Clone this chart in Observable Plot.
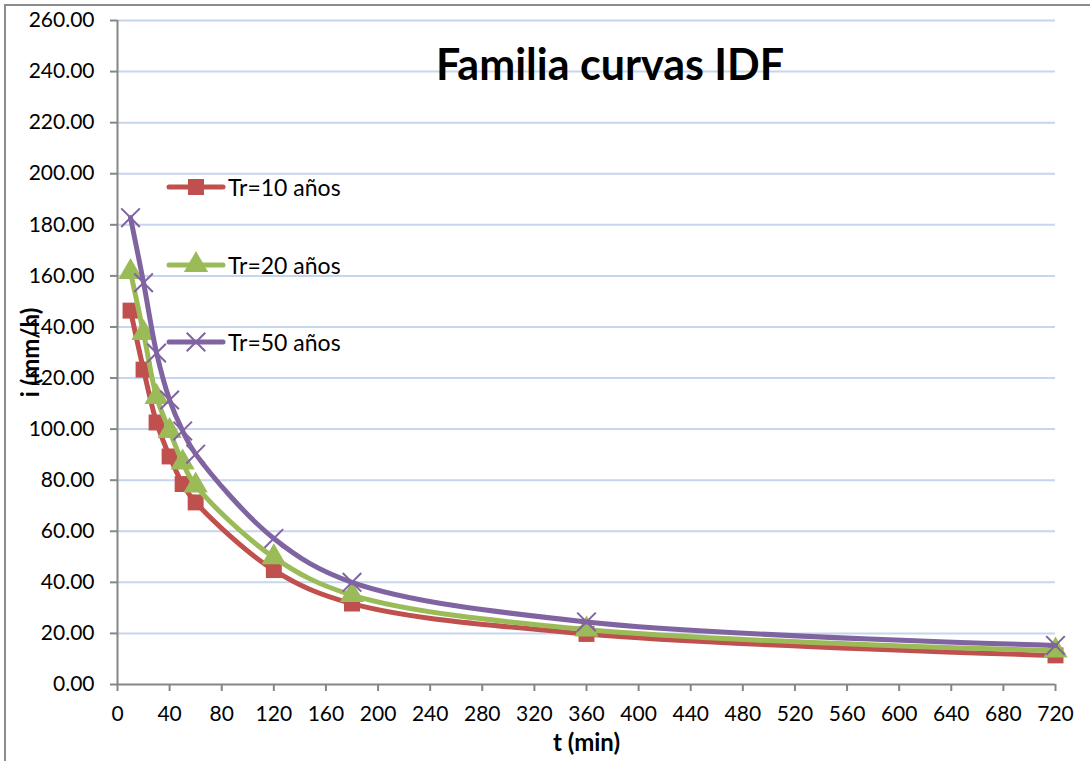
<!DOCTYPE html>
<html><head><meta charset="utf-8">
<script src="https://cdn.jsdelivr.net/npm/d3@7"></script>
<script src="https://cdn.jsdelivr.net/npm/@observablehq/plot@0.6"></script>
<style>
body{margin:0;background:#fff;font-family:Lato,"Open Sans",sans-serif;}
#wrap{position:relative;width:1090px;height:761px;overflow:hidden;}
#border{position:absolute;left:4px;top:4px;width:1200px;height:900px;border:2px solid #8c8c8c;box-sizing:border-box;}
#chart{position:absolute;left:0;top:0;}
#title{position:absolute;left:310px;width:600px;top:38px;text-align:center;font-size:43px;font-weight:bold;color:#000;}
#legend{position:absolute;left:166px;top:0;}
.item{position:absolute;left:0;display:flex;align-items:center;white-space:nowrap;font-size:23px;color:#000;}
.item svg{display:block;margin-right:2px;}
svg [aria-label$="axis label"] text{font-weight:bold;font-size:24px;}
</style>
</head><body>
<div id="wrap">
<div id="chart"></div>
<div id="border"></div>
<div id="title">Familia curvas IDF</div>
<div id="legend"></div>
</div>
<script>
const t = [10, 20, 30, 40, 50, 60, 120, 180, 360, 720];
const tr10 = [146.4, 123.3, 102.6, 89.3, 78.5, 71.3, 44.8, 31.7, 19.8, 11.4];
const tr20 = [161.5, 137.6, 112.6, 99.3, 86.9, 77.9, 49.8, 35.0, 21.5, 13.3];
const tr50 = [182.8, 157.3, 129.8, 111.4, 99.3, 90.2, 57.2, 40.0, 24.5, 15.3];
const seriesNames = ["Tr=10 años", "Tr=20 años", "Tr=50 años"];
const seriesColors = ["#c0504d", "#9bbb59", "#8064a2"];
const seriesSymbols = ["square", "triangle", "times"];
const xTicks = [0, 40, 80, 120, 160, 200, 240, 280, 320, 360, 400, 440, 480, 520, 560, 600, 640, 680, 720];
const yTicks = [0, 20, 40, 60, 80, 100, 120, 140, 160, 180, 200, 220, 240, 260];

const seriesValues = [tr10, tr20, tr50];
const data = [];
seriesValues.forEach((vals, s) => vals.forEach((v, i) => data.push({t: t[i], i: v, s: seriesNames[s]})));

const seriesMarks = [];
seriesNames.forEach((name, s) => {
  const d = data.filter(r => r.s === name);
  seriesMarks.push(Plot.line(d, {x: "t", y: "i", stroke: seriesColors[s], strokeWidth: 5, curve: "catmull-rom"}));
  if (seriesSymbols[s] === "times") {
    seriesMarks.push(Plot.dot(d, {x: "t", y: "i", symbol: "times", r: 8.5, stroke: seriesColors[s], strokeWidth: 2}));
  } else {
    seriesMarks.push(Plot.dot(d, {x: "t", y: "i", symbol: seriesSymbols[s], r: 9, fill: seriesColors[s], stroke: "none"}));
  }
});

const chart = Plot.plot({
  width: 1090, height: 761,
  marginLeft: 117, marginRight: 35, marginTop: 20, marginBottom: 77,
  style: {fontFamily: "Lato, 'Open Sans', sans-serif", fontSize: "21px", color: "#000", background: "transparent"},
  x: {domain: [0, 720]},
  y: {domain: [0, 260]},
  marks: [
    Plot.gridY(yTicks.filter(v => v > 0), {stroke: "#c6d6ec", strokeOpacity: 1, strokeWidth: 2}),
    Plot.ruleY([0], {stroke: "#868686", strokeWidth: 2}),
    Plot.ruleX([0], {stroke: "#868686", strokeWidth: 2}),
    Plot.axisY(yTicks, {tickFormat: d => d.toFixed(2), tickSize: 7, tickPadding: 16, stroke: "#868686", strokeWidth: 2,
      label: "i (mm/h)", labelArrow: "none", labelAnchor: "center", labelOffset: 96, fontSize: 21}),
    Plot.axisX(xTicks, {tickFormat: d => String(d), tickSize: 7, tickPadding: 15, stroke: "#868686", strokeWidth: 2,
      label: "t (min)", labelArrow: "none", labelAnchor: "center", labelOffset: 66, fontSize: 21}),
    ...seriesMarks
  ]
});
document.getElementById("chart").appendChild(chart);

// legend
const legendY = [187, 265, 342];
const leg = document.getElementById("legend");
seriesNames.forEach((name, s) => {
  const item = document.createElement("div");
  item.className = "item";
  item.style.top = (legendY[s] - 15) + "px";
  const sw = d3.create("svg").attr("width", 60).attr("height", 30);
  sw.append("line").attr("x1", 3).attr("x2", 57).attr("y1", 15).attr("y2", 15)
    .attr("stroke", seriesColors[s]).attr("stroke-width", 5).attr("stroke-linecap", "round");
  const symMap = {square: d3.symbolSquare, triangle: d3.symbolTriangle, times: d3.symbolTimes};
  const sym = d3.symbol(symMap[seriesSymbols[s]], seriesSymbols[s] === "times" ? 72 * Math.PI : 81 * Math.PI);
  const p = sw.append("path").attr("d", sym()).attr("transform", "translate(30,15)");
  if (seriesSymbols[s] === "times") p.attr("fill", "none").attr("stroke", seriesColors[s]).attr("stroke-width", 2);
  else p.attr("fill", seriesColors[s]);
  item.appendChild(sw.node());
  const span = document.createElement("span");
  span.textContent = name;
  item.appendChild(span);
  leg.appendChild(item);
});
</script>
</body></html>
